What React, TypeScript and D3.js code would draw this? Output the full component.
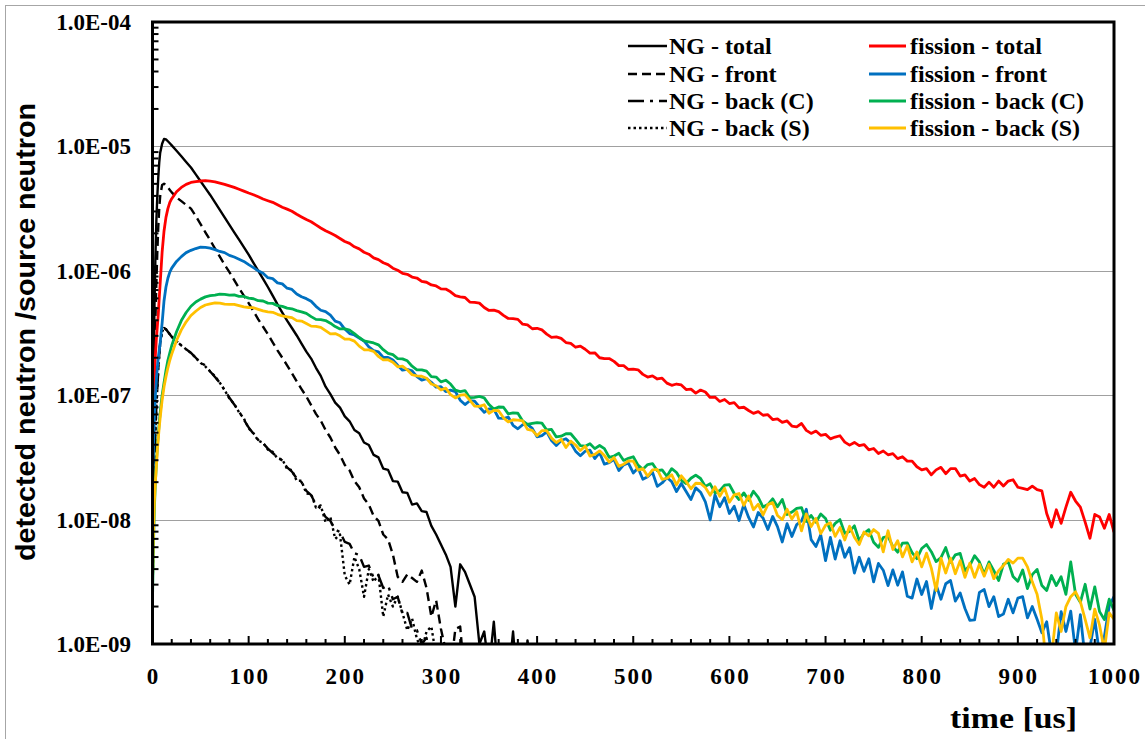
import React from 'react';
import * as d3 from 'd3';

// Sampling times (us) shared by all curves
const timeUs = [
  0, 1, 2, 3, 4, 5, 6, 7, 8, 10, 12, 14, 16, 18,
  20, 25, 30, 35, 40, 45, 50, 55, 60, 65, 70, 75, 80, 85, 90, 95, 100,
  105, 110, 115, 120, 125, 130, 135, 140, 145, 150, 155, 160, 165, 170, 175, 180, 185, 190, 195, 200,
  205, 210, 215, 220, 225, 230, 235, 240, 245, 250, 255, 260, 265, 270, 275, 280, 285, 290, 295, 300,
  305, 310, 315, 320, 325, 330, 335, 340, 345, 350, 355, 360, 365, 370, 375, 380, 385, 390, 395, 400,
  405, 410, 415, 420, 425, 430, 435, 440, 445, 450, 455, 460, 465, 470, 475, 480, 485, 490, 495, 500,
  505, 510, 515, 520, 525, 530, 535, 540, 545, 550, 555, 560, 565, 570, 575, 580, 585, 590, 595, 600,
  605, 610, 615, 620, 625, 630, 635, 640, 645, 650, 655, 660, 665, 670, 675, 680, 685, 690, 695, 700,
  705, 710, 715, 720, 725, 730, 735, 740, 745, 750, 755, 760, 765, 770, 775, 780, 785, 790, 795, 800,
  805, 810, 815, 820, 825, 830, 835, 840, 845, 850, 855, 860, 865, 870, 875, 880, 885, 890, 895, 900,
  905, 910, 915, 920, 925, 930, 935, 940, 945, 950, 955, 960, 965, 970, 975, 980, 985, 990, 995, 1000,
];

// Detected neutrons per source neutron, neutron generator runs
const ngTotal = [
  5.0e-9, 1.0e-7, 5.01e-7, 1.26e-6, 2.51e-6, 3.98e-6, 5.62e-6, 7.41e-6, 8.91e-6, 1.05e-5, 1.15e-5, 1.14e-5, 1.10e-5, 1.06e-5,
  1.02e-5, 9.23e-6, 8.32e-6, 7.50e-6, 6.76e-6, 5.96e-6, 5.25e-6, 4.62e-6, 4.07e-6, 3.55e-6, 3.09e-6, 2.69e-6, 2.34e-6, 2.04e-6,
  1.78e-6, 1.55e-6, 1.35e-6, 1.16e-6, 1.0e-6, 8.61e-7, 7.41e-7, 6.31e-7, 5.37e-7, 4.62e-7, 3.98e-7, 3.47e-7, 3.02e-7,
  2.60e-7, 2.24e-7, 1.97e-7, 1.66e-7, 1.43e-7, 1.17e-7, 1.02e-7, 8.71e-8, 7.94e-8, 6.76e-8,
  6.17e-8, 5.25e-8, 4.95e-8, 4.17e-8, 3.98e-8, 3.31e-8, 3.16e-8, 2.57e-8, 2.51e-8, 2.04e-8,
  2.02e-8, 1.66e-8, 1.64e-8, 1.32e-8, 1.35e-8, 1.17e-8, 1.15e-8, 8.91e-9, 7.59e-9, 6.31e-9,
  5.25e-9, 4.17e-9, 2.0e-9, 4.37e-9, 3.80e-9, 3.02e-9, 2.40e-9, 1.0e-9, 1.26e-9, 6.3e-10,
  1.51e-9, 5.0e-10, 7.9e-10, 5.0e-10, 1.26e-9, 4.0e-10, 2.5e-10, 1.07e-9, 5.0e-10,
];
const ngFront = [
  3.16e-9, 3.98e-8, 1.58e-7, 3.98e-7, 7.94e-7, 1.41e-6, 2.24e-6, 3.16e-6, 3.98e-6, 4.90e-6, 5.01e-6, 4.90e-6, 4.68e-6, 4.47e-6,
  4.27e-6, 3.89e-6, 3.63e-6, 3.39e-6, 3.16e-6, 2.75e-6, 2.37e-6, 2.04e-6, 1.76e-6, 1.51e-6, 1.30e-6, 1.12e-6, 9.77e-7, 8.41e-7,
  7.24e-7, 6.31e-7, 5.50e-7, 4.73e-7, 4.07e-7, 3.55e-7, 3.09e-7, 2.66e-7, 2.29e-7, 2.0e-7, 1.74e-7, 1.50e-7, 1.29e-7,
  1.12e-7, 9.77e-8, 8.32e-8, 7.08e-8, 6.24e-8, 5.25e-8, 4.57e-8, 3.80e-8, 3.31e-8, 2.75e-8,
  2.48e-8, 2.04e-8, 1.82e-8, 1.48e-8, 1.32e-8, 1.07e-8, 9.77e-9, 7.59e-9, 6.92e-9, 5.25e-9,
  3.47e-9, 3.16e-9, 3.63e-9, 3.39e-9, 3.16e-9, 3.89e-9, 2.82e-9, 1.66e-9, 2.24e-9, 1.32e-9,
  8.9e-10, 6.3e-10, 1.32e-9, 1.38e-9, 5.0e-10,
];
const ngBackC = [
  2.0e-9, 1.0e-8, 2.51e-8, 5.01e-8, 7.94e-8, 1.12e-7, 1.58e-7, 2.09e-7, 2.63e-7, 3.24e-7, 3.47e-7, 3.39e-7, 3.24e-7, 3.09e-7,
  2.95e-7, 2.72e-7, 2.51e-7, 2.34e-7, 2.19e-7, 2.0e-7, 1.82e-7, 1.74e-7, 1.55e-7, 1.40e-7, 1.26e-7, 1.10e-7, 9.55e-8, 8.41e-8,
  7.41e-8, 6.38e-8, 5.50e-8, 4.90e-8, 4.37e-8, 4.12e-8, 3.72e-8, 3.43e-8, 3.16e-8, 2.99e-8, 2.63e-8, 2.43e-8, 2.14e-8,
  2.0e-8, 1.70e-8, 1.57e-8, 1.32e-8, 1.23e-8, 1.05e-8, 9.77e-9, 8.32e-9, 7.94e-9, 6.61e-9,
  6.38e-9, 5.37e-9, 5.19e-9, 4.17e-9, 4.27e-9, 3.39e-9, 3.55e-9, 2.82e-9, 2.95e-9, 2.29e-9,
  2.40e-9, 1.74e-9, 1.78e-9, 1.32e-9, 1.29e-9, 1.0e-9, 1.12e-9, 7.1e-10, 5.0e-10,
];
const ngBackS = [
  2.0e-9, 1.0e-8, 2.51e-8, 5.01e-8, 7.94e-8, 1.12e-7, 1.58e-7, 2.09e-7, 2.63e-7, 3.24e-7, 3.47e-7, 3.39e-7, 3.24e-7, 3.09e-7,
  2.95e-7, 2.72e-7, 2.51e-7, 2.34e-7, 2.19e-7, 2.0e-7, 1.82e-7, 1.70e-7, 1.55e-7, 1.42e-7, 1.26e-7, 1.10e-7, 9.4e-8, 8.5e-8,
  7.3e-8, 6.5e-8, 5.4e-8, 4.95e-8, 4.3e-8, 4.15e-8, 3.65e-8, 3.5e-8, 3.1e-8, 3.05e-8, 2.55e-8, 2.5e-8, 2.05e-8,
  2.05e-8, 1.62e-8, 1.6e-8, 1.25e-8, 1.3e-8, 9.5e-9, 1.05e-8, 7.0e-9, 7.6e-9, 3.55e-9,
  3.0e-9, 5.0e-9, 4.0e-9, 2.4e-9, 4.0e-9, 3.16e-9, 3.6e-9, 1.66e-9, 2.5e-9, 2.0e-9,
  2.4e-9, 1.78e-9, 1.29e-9, 1.6e-9, 1.1e-9, 8.9e-10, 1.26e-9, 1.38e-9, 8.0e-10, 5.0e-10,
];

// Detected neutrons per source neutron, fission runs
const fissionTotal = [
  2.5e-8, 7.9e-8, 1.41e-7, 2.09e-7, 2.82e-7, 3.55e-7, 4.47e-7, 6.03e-7, 7.94e-7, 1.41e-6, 2.09e-6, 2.69e-6, 3.16e-6, 3.55e-6,
  3.80e-6, 4.32e-6, 4.68e-6, 4.95e-6, 5.13e-6, 5.21e-6, 5.27e-6, 5.30e-6, 5.25e-6, 5.19e-6, 5.07e-6, 4.95e-6, 4.81e-6, 4.68e-6,
  4.52e-6, 4.37e-6, 4.22e-6, 4.09e-6, 3.94e-6, 3.78e-6, 3.66e-6, 3.55e-6, 3.39e-6, 3.24e-6, 3.13e-6, 3.01e-6, 2.85e-6,
  2.71e-6, 2.58e-6, 2.48e-6, 2.34e-6, 2.21e-6, 2.10e-6, 2.01e-6, 1.92e-6, 1.82e-6, 1.72e-6,
  1.66e-6, 1.56e-6, 1.50e-6, 1.41e-6, 1.36e-6, 1.27e-6, 1.23e-6, 1.16e-6, 1.12e-6, 1.05e-6,
  1.01e-6, 9.55e-7, 9.38e-7, 8.91e-7, 8.75e-7, 8.22e-7, 8.09e-7, 7.69e-7, 7.55e-7, 7.16e-7,
  7.13e-7, 6.78e-7, 6.31e-7, 6.17e-7, 6.10e-7, 5.61e-7, 5.57e-7, 5.50e-7, 5.07e-7, 4.80e-7,
  4.83e-7, 4.70e-7, 4.38e-7, 4.14e-7, 4.13e-7, 4.07e-7, 3.72e-7, 3.67e-7, 3.42e-7, 3.45e-7,
  3.35e-7, 3.10e-7, 2.92e-7, 2.94e-7, 2.86e-7, 2.65e-7, 2.61e-7, 2.43e-7, 2.48e-7, 2.34e-7,
  2.18e-7, 2.19e-7, 2.0e-7, 1.97e-7, 1.97e-7, 1.87e-7, 1.73e-7, 1.73e-7, 1.61e-7, 1.62e-7,
  1.60e-7, 1.47e-7, 1.40e-7, 1.43e-7, 1.35e-7, 1.37e-7, 1.25e-7, 1.20e-7, 1.23e-7, 1.21e-7,
  1.11e-7, 1.12e-7, 1.04e-7, 1.10e-7, 1.06e-7, 9.59e-8, 9.66e-8, 8.91e-8, 9.23e-8, 8.57e-8,
  8.71e-8, 7.91e-8, 8.0e-8, 7.53e-8, 7.14e-8, 7.38e-8, 6.90e-8, 6.97e-8, 6.37e-8, 6.46e-8,
  6.04e-8, 6.21e-8, 5.65e-8, 5.57e-8, 5.92e-8, 5.21e-8, 4.93e-8, 5.15e-8, 4.76e-8, 4.84e-8,
  4.46e-8, 4.61e-8, 4.72e-8, 4.20e-8, 3.97e-8, 4.17e-8, 3.93e-8, 4.01e-8, 3.64e-8, 3.73e-8,
  3.40e-8, 3.56e-8, 3.32e-8, 3.39e-8, 3.09e-8, 3.20e-8, 2.95e-8, 2.95e-8, 2.66e-8, 2.51e-8,
  2.57e-8, 2.29e-8, 2.51e-8, 2.63e-8, 2.34e-8, 2.57e-8, 2.57e-8, 2.24e-8, 2.29e-8, 2.04e-8,
  2.14e-8, 1.91e-8, 1.82e-8, 2.00e-8, 1.82e-8, 2.04e-8, 1.86e-8, 2.04e-8, 2.09e-8, 1.82e-8,
  1.78e-8, 1.74e-8, 1.86e-8, 1.74e-8, 1.70e-8, 1.12e-8, 8.71e-9, 1.20e-8, 9.33e-9, 1.26e-8,
  1.66e-8, 1.41e-8, 1.26e-8, 9.55e-9, 7.08e-9, 1.10e-8, 1.05e-8, 8.51e-9, 1.10e-8, 7.94e-9,
];
const fissionFront = [
  1.26e-8, 3.98e-8, 7.08e-8, 1.00e-7, 1.32e-7, 1.66e-7, 2.00e-7, 2.29e-7, 2.63e-7, 3.80e-7, 5.75e-7, 7.41e-7, 8.71e-7, 9.77e-7,
  1.05e-6, 1.19e-6, 1.30e-6, 1.40e-6, 1.46e-6, 1.51e-6, 1.55e-6, 1.54e-6, 1.52e-6, 1.48e-6, 1.43e-6, 1.40e-6, 1.33e-6, 1.29e-6,
  1.24e-6, 1.19e-6, 1.12e-6, 1.06e-6, 1.00e-6, 9.55e-7, 8.80e-7, 8.65e-7, 8.00e-7, 7.85e-7, 7.25e-7, 7.08e-7, 6.50e-7,
  6.18e-7, 5.97e-7, 5.69e-7, 5.18e-7, 4.82e-7, 4.70e-7, 4.40e-7, 3.94e-7, 3.82e-7, 3.40e-7,
  3.13e-7, 3.05e-7, 2.88e-7, 2.73e-7, 2.45e-7, 2.28e-7, 2.23e-7, 2.01e-7, 2.01e-7, 1.92e-7,
  1.74e-7, 1.59e-7, 1.61e-7, 1.57e-7, 1.41e-7, 1.32e-7, 1.36e-7, 1.27e-7, 1.16e-7, 1.17e-7,
  1.07e-7, 1.10e-7, 1.07e-7, 9.12e-8, 8.41e-8, 9.02e-8, 8.97e-8, 8.04e-8, 7.29e-8, 7.76e-8,
  7.73e-8, 6.53e-8, 6.50e-8, 6.68e-8, 5.73e-8, 5.37e-8, 5.79e-8, 5.82e-8, 5.41e-8, 4.62e-8,
  4.73e-8, 5.07e-8, 4.32e-8, 3.94e-8, 4.32e-8, 4.47e-8, 4.12e-8, 3.55e-8, 3.26e-8, 3.55e-8,
  3.61e-8, 3.09e-8, 3.45e-8, 2.79e-8, 2.87e-8, 3.05e-8, 2.48e-8, 2.75e-8, 2.85e-8, 2.37e-8,
  2.60e-8, 2.11e-8, 2.21e-8, 2.40e-8, 1.85e-8, 1.97e-8, 2.18e-8, 2.02e-8, 1.68e-8, 1.95e-8,
  1.68e-8, 1.45e-8, 1.80e-8, 1.66e-8, 1.39e-8, 9.93e-9, 1.58e-8, 1.27e-8, 1.50e-8, 1.12e-8,
  1.28e-8, 9.84e-9, 1.32e-8, 1.04e-8, 8.73e-9, 1.14e-8, 1.03e-8, 8.32e-9, 1.06e-8, 8.79e-9,
  6.61e-9, 9.27e-9, 7.31e-9, 9.12e-9, 9.77e-9, 1.21e-8, 6.90e-9, 6.07e-9, 7.55e-9, 4.68e-9,
  7.19e-9, 4.82e-9, 6.76e-9, 4.98e-9, 5.94e-9, 3.72e-9, 4.98e-9, 3.84e-9, 4.84e-9, 3.16e-9,
  4.44e-9, 3.92e-9, 2.95e-9, 3.94e-9, 2.97e-9, 3.80e-9, 2.42e-9, 2.34e-9, 3.33e-9, 2.50e-9,
  3.18e-9, 1.93e-9, 2.99e-9, 2.29e-9, 3.05e-9, 3.24e-9, 2.21e-9, 2.57e-9, 1.93e-9, 1.55e-9,
  1.56e-9, 2.60e-9, 2.74e-9, 2.0e-9, 2.40e-9, 1.66e-9, 1.74e-9, 2.29e-9, 1.78e-9, 2.34e-9,
  2.40e-9, 1.62e-9, 2.0e-9, 1.58e-9, 1.23e-9, 1.51e-9, 8.3e-10, 8.2e-10, 1.82e-9, 1.26e-9,
  1.84e-9, 8.7e-10, 1.72e-9, 7.6e-10, 9.4e-10, 1.58e-9, 8.2e-10, 1.15e-9, 2.02e-9, 2.40e-9,
];
const fissionBackC = [
  2.24e-9, 6.31e-9, 1.26e-8, 2.0e-8, 2.82e-8, 3.80e-8, 4.79e-8, 6.03e-8, 7.24e-8, 1.0e-7, 1.26e-7, 1.58e-7, 1.91e-7, 2.19e-7,
  2.51e-7, 3.24e-7, 3.98e-7, 4.62e-7, 5.19e-7, 5.62e-7, 5.92e-7, 6.17e-7, 6.31e-7, 6.38e-7, 6.49e-7, 6.46e-7, 6.38e-7, 6.40e-7,
  6.24e-7, 6.22e-7, 6.03e-7, 5.96e-7, 5.75e-7, 5.72e-7, 5.50e-7, 5.47e-7, 5.25e-7, 5.18e-7, 5.01e-7, 4.95e-7, 4.79e-7,
  4.68e-7, 4.55e-7, 4.28e-7, 4.07e-7, 4.05e-7, 3.98e-7, 3.79e-7, 3.56e-7, 3.41e-7, 3.42e-7,
  3.33e-7, 3.13e-7, 2.91e-7, 2.73e-7, 2.68e-7, 2.63e-7, 2.54e-7, 2.32e-7, 2.17e-7, 2.12e-7,
  1.97e-7, 1.96e-7, 1.89e-7, 1.71e-7, 1.60e-7, 1.60e-7, 1.56e-7, 1.41e-7, 1.40e-7, 1.28e-7,
  1.32e-7, 1.23e-7, 1.10e-7, 1.07e-7, 1.09e-7, 9.55e-8, 9.62e-8, 9.77e-8, 9.51e-8, 8.41e-8,
  7.73e-8, 8.04e-8, 8.0e-8, 7.08e-8, 7.21e-8, 7.16e-8, 6.21e-8, 5.82e-8, 5.93e-8, 6.03e-8,
  5.96e-8, 5.25e-8, 5.31e-8, 4.62e-8, 4.68e-8, 4.90e-8, 4.90e-8, 4.42e-8, 3.94e-8, 3.89e-8,
  4.07e-8, 3.72e-8, 3.94e-8, 3.72e-8, 3.16e-8, 3.24e-8, 3.41e-8, 2.99e-8, 3.11e-8, 3.20e-8,
  2.74e-8, 2.54e-8, 2.77e-8, 2.82e-8, 2.47e-8, 2.51e-8, 2.23e-8, 2.57e-8, 2.39e-8, 2.07e-8,
  1.95e-8, 2.15e-8, 2.28e-8, 2.14e-8, 1.85e-8, 1.94e-8, 1.64e-8, 1.71e-8, 1.89e-8, 1.91e-8,
  1.62e-8, 1.45e-8, 1.64e-8, 1.43e-8, 1.69e-8, 1.51e-8, 1.26e-8, 1.32e-8, 1.47e-8, 1.27e-8,
  1.45e-8, 1.10e-8, 1.15e-8, 1.23e-8, 1.25e-8, 9.66e-9, 1.08e-8, 9.51e-9, 1.11e-8, 1.02e-8,
  8.22e-9, 9.33e-9, 1.0e-8, 7.76e-9, 8.04e-9, 8.91e-9, 6.76e-9, 7.76e-9, 8.30e-9, 6.58e-9,
  5.98e-9, 7.18e-9, 7.33e-9, 6.08e-9, 5.47e-9, 6.46e-9, 6.49e-9, 5.42e-9, 4.85e-9, 5.86e-9,
  6.31e-9, 5.52e-9, 4.60e-9, 4.94e-9, 5.96e-9, 4.53e-9, 5.21e-9, 5.35e-9, 3.88e-9, 4.27e-9,
  5.13e-9, 4.57e-9, 3.63e-9, 4.57e-9, 3.89e-9, 3.24e-9, 4.37e-9, 4.59e-9, 3.49e-9, 3.19e-9,
  3.94e-9, 2.79e-9, 3.61e-9, 3.98e-9, 2.95e-9, 2.69e-9, 3.55e-9, 2.95e-9, 3.47e-9, 2.51e-9,
  4.57e-9, 2.51e-9, 2.16e-9, 3.02e-9, 1.91e-9, 2.88e-9, 1.82e-9, 1.57e-9, 2.29e-9, 1.86e-9,
];
const fissionBackS = [
  3.16e-9, 7.94e-9, 1.41e-8, 2.0e-8, 2.69e-8, 3.55e-8, 4.47e-8, 5.50e-8, 6.61e-8, 9.12e-8, 1.17e-7, 1.41e-7, 1.66e-7, 1.91e-7,
  2.14e-7, 2.75e-7, 3.35e-7, 3.89e-7, 4.37e-7, 4.73e-7, 5.07e-7, 5.31e-7, 5.43e-7, 5.52e-7, 5.50e-7, 5.40e-7, 5.37e-7, 5.38e-7,
  5.25e-7, 5.12e-7, 5.07e-7, 5.05e-7, 4.90e-7, 4.76e-7, 4.68e-7, 4.64e-7, 4.47e-7, 4.34e-7, 4.27e-7, 4.20e-7, 3.98e-7,
  3.94e-7, 3.77e-7, 3.59e-7, 3.58e-7, 3.51e-7, 3.30e-7, 3.11e-7, 3.13e-7, 3.0e-7, 2.82e-7,
  2.82e-7, 2.72e-7, 2.48e-7, 2.32e-7, 2.31e-7, 2.25e-7, 2.05e-7, 1.92e-7, 1.93e-7, 1.84e-7,
  1.69e-7, 1.71e-7, 1.60e-7, 1.46e-7, 1.43e-7, 1.42e-7, 1.37e-7, 1.23e-7, 1.19e-7, 1.10e-7,
  1.14e-7, 1.01e-7, 9.51e-8, 1.0e-7, 1.01e-7, 9.12e-8, 8.18e-8, 8.13e-8, 8.38e-8, 7.16e-8,
  7.55e-8, 7.50e-8, 6.58e-8, 6.10e-8, 6.35e-8, 6.31e-8, 6.21e-8, 5.31e-8, 5.22e-8, 4.73e-8,
  5.19e-8, 5.19e-8, 4.52e-8, 4.17e-8, 4.42e-8, 3.80e-8, 4.27e-8, 3.98e-8, 3.59e-8, 3.89e-8,
  3.24e-8, 3.35e-8, 3.57e-8, 3.27e-8, 2.90e-8, 3.16e-8, 2.68e-8, 2.79e-8, 2.97e-8, 2.95e-8,
  2.50e-8, 2.57e-8, 2.23e-8, 2.51e-8, 2.53e-8, 2.11e-8, 2.15e-8, 2.29e-8, 1.90e-8, 2.25e-8,
  2.02e-8, 1.77e-8, 1.96e-8, 1.95e-8, 1.81e-8, 1.57e-8, 1.84e-8, 1.54e-8, 1.79e-8, 1.38e-8,
  1.58e-8, 1.62e-8, 1.30e-8, 1.55e-8, 1.20e-8, 1.33e-8, 1.09e-8, 1.32e-8, 1.37e-8, 1.08e-8,
  1.0e-8, 1.21e-8, 1.01e-8, 1.16e-8, 8.13e-9, 1.11e-8, 8.79e-9, 1.02e-8, 7.71e-9, 9.0e-9,
  9.44e-9, 7.33e-9, 8.63e-9, 6.86e-9, 8.85e-9, 7.21e-9, 6.31e-9, 7.94e-9, 7.41e-9, 8.32e-9,
  7.76e-9, 5.50e-9, 8.13e-9, 5.75e-9, 6.76e-9, 5.01e-9, 6.17e-9, 4.57e-9, 5.50e-9, 4.17e-9,
  5.37e-9, 4.07e-9, 2.69e-9, 4.90e-9, 3.72e-9, 4.90e-9, 3.67e-9, 4.68e-9, 3.43e-9, 4.47e-9,
  3.43e-9, 4.37e-9, 3.51e-9, 4.37e-9, 3.35e-9, 3.89e-9, 4.27e-9, 4.79e-9, 4.47e-9, 4.90e-9,
  4.90e-9, 4.17e-9, 3.16e-9, 2.51e-9, 1.58e-9, 6.3e-10, 7.9e-10, 1.78e-9, 1.26e-9, 2.0e-9,
  2.40e-9, 2.63e-9, 2.19e-9, 1.58e-9, 1.12e-9, 1.91e-9, 1.41e-9, 8.9e-10, 1.78e-9, 1.58e-9,
];

const xTicks = [0, 100, 200, 300, 400, 500, 600, 700, 800, 900, 1000];
const yTicks = [1e-9, 1e-8, 1e-7, 1e-6, 1e-5, 1e-4];
const yTickLabels = ['1.0E-09', '1.0E-08', '1.0E-07', '1.0E-06', '1.0E-05', '1.0E-04'];

type Series = { name: string; data: number[]; color: string; dash?: string; width: number };

const series: Series[] = [
  { name: 'NG - total', data: ngTotal, color: '#000000', width: 2.4 },
  { name: 'NG - front', data: ngFront, color: '#000000', dash: '9,5', width: 2.4 },
  { name: 'NG - back (C)', data: ngBackC, color: '#000000', dash: '16,6,3,6', width: 2.4 },
  { name: 'NG - back (S)', data: ngBackS, color: '#000000', dash: '2.5,3', width: 2.4 },
  { name: 'fission - total', data: fissionTotal, color: '#FF0000', width: 2.8 },
  { name: 'fission - front', data: fissionFront, color: '#0070C0', width: 2.8 },
  { name: 'fission - back (C)', data: fissionBackC, color: '#00B050', width: 2.8 },
  { name: 'fission - back (S)', data: fissionBackS, color: '#FFC000', width: 2.8 },
];

const W = 1145;
const H = 739;
const PL = 152.5;
const PR = 1114;
const PT = 22;
const PB = 644;

export default function App() {
  const x = d3.scaleLinear().domain([0, 1000]).range([PL, PR]);
  const y = d3.scaleLog().domain([1e-9, 1e-4]).range([PB, PT]);

  const line = d3
    .line<number>()
    .x((_, i) => x(timeUs[i]))
    .y((d) => y(d));

  const minorY: number[] = [];
  for (let e = -9; e < -4; e++) {
    for (let m = 2; m <= 9; m++) minorY.push(m * Math.pow(10, e));
  }
  const minorX = d3.range(0, 1001, 20);

  const serif = "'Liberation Serif', 'Times New Roman', serif";
  const sans = "'Liberation Sans', Arial, sans-serif";

  const legendRows = [46, 74, 101, 128];

  return (
    <svg
      width={W}
      height={H}
      viewBox={`0 0 ${W} ${H}`}
      style={{ position: 'absolute', left: 0, top: 0, background: '#fff' }}
    >
      <defs>
        <clipPath id="plotClip">
          <rect x={PL} y={PT} width={PR - PL} height={PB - PT} />
        </clipPath>
      </defs>
      <rect x={0} y={0} width={W} height={H} fill="#fff" />
      <rect x={5.5} y={5.5} width={W + 20} height={H + 20} fill="none" stroke="#a6a6a6" strokeWidth={1} />

      {/* horizontal grid */}
      {yTicks.slice(1, -1).map((v) => (
        <line key={v} x1={PL} x2={PR} y1={Math.round(y(v)) + 0.5} y2={Math.round(y(v)) + 0.5} stroke="#a0a0a0" strokeWidth={1} />
      ))}

      {/* curves */}
      <g clipPath="url(#plotClip)" fill="none" strokeLinejoin="round">
        {series.map((s) => (
          <path
            key={s.name}
            d={line(s.data) || ''}
            stroke={s.color}
            strokeWidth={s.width}
            strokeDasharray={s.dash}
          />
        ))}
      </g>

      {/* ticks */}
      {minorY.map((v) => (
        <line key={v} x1={PL} x2={PL + 6} y1={y(v)} y2={y(v)} stroke="#000" strokeWidth={2} />
      ))}
      {minorX.map((t) => (
        <line
          key={t}
          x1={x(t)}
          x2={x(t)}
          y1={PB}
          y2={PB - (t % 100 === 0 ? 8 : 5)}
          stroke="#000"
          strokeWidth={2}
        />
      ))}

      {/* plot frame */}
      <rect x={PL} y={PT} width={PR - PL} height={PB - PT} fill="none" stroke="#000" strokeWidth={3} />

      {/* y tick labels */}
      {yTicks.map((v, i) => (
        <text
          key={v}
          x={131}
          y={y(v) + 8}
          textAnchor="end"
          fontFamily={serif}
          fontWeight="bold"
          fontSize={23}
          fill="#000"
        >
          {yTickLabels[i]}
        </text>
      ))}

      {/* x tick labels */}
      {xTicks.map((t) => (
        <text
          key={t}
          x={x(t) + 1}
          y={684}
          textAnchor="middle"
          fontFamily={serif}
          fontWeight="bold"
          fontSize={23}
          letterSpacing={2}
          fill="#000"
        >
          {t}
        </text>
      ))}

      {/* axis titles */}
      <text
        x={950}
        y={728}
        fontFamily={serif}
        fontWeight="bold"
        fontSize={30}
        textLength={127}
        lengthAdjust="spacingAndGlyphs"
        fill="#000"
      >
        time [us]
      </text>
      <text
        transform="translate(35,332) rotate(-90)"
        textAnchor="middle"
        fontFamily={sans}
        fontWeight="bold"
        fontSize={28}
        textLength={458}
        lengthAdjust="spacingAndGlyphs"
        fill="#000"
      >
        detected neutron /source neutron
      </text>

      {/* legend */}
      {series.map((s, i) => {
        const col = i < 4 ? 0 : 1;
        const row = i % 4;
        const lx0 = col === 0 ? 628 : 869;
        const lx1 = col === 0 ? 667 : 906;
        const tx = col === 0 ? 669 : 910;
        const cy = legendRows[row];
        return (
          <g key={s.name}>
            <line x1={lx0} x2={lx1} y1={cy} y2={cy} stroke={s.color} strokeWidth={s.width} strokeDasharray={s.dash} />
            <text x={tx} y={cy + 8} fontFamily={serif} fontWeight="bold" fontSize={24} fill="#000">
              {s.name}
            </text>
          </g>
        );
      })}
    </svg>
  );
}
